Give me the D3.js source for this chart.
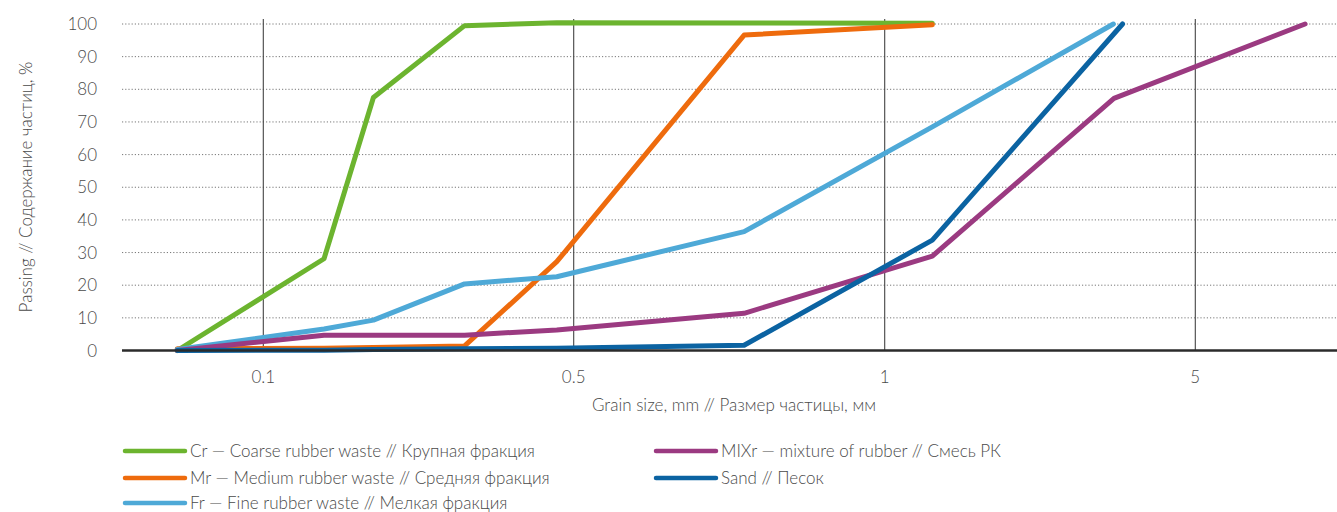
<!DOCTYPE html>
<html>
<head>
<meta charset="utf-8">
<script src="https://cdn.jsdelivr.net/npm/d3@7"></script>
<style>
  html, body { margin: 0; padding: 0; background: #fff; }
  svg { display: block; }
  text { font-family: Lato, "Noto Sans", sans-serif; font-weight: 300; fill: #4a4a4a; }
</style>
</head>
<body>
<svg id="chart" width="1337" height="512"></svg>
<script>
// Grain-size distribution curves (percent passing vs sieve size, mm)
const sizesCr   = [0.064, 0.137, 0.177, 0.284, 0.458, 0.731, 1.28];
const valuesCr  = [0, 28.1, 77.5, 99.5, 100.4, 100.3, 100.2];

const sizesMr   = [0.064, 0.137, 0.177, 0.284, 0.458, 0.731, 1.28];
const valuesMr  = [0.5, 0.7, 0.9, 1.4, 27.2, 96.6, 99.8];

const sizesFr   = [0.064, 0.137, 0.177, 0.284, 0.458, 0.731, 1.28, 3.27];
const valuesFr  = [0.3, 6.6, 9.3, 20.4, 22.6, 36.4, 68.5, 100];

const sizesMix  = [0.064, 0.137, 0.177, 0.284, 0.458, 0.731, 1.28, 3.28, 8.83];
const valuesMix = [0, 4.7, 4.7, 4.7, 6.3, 11.4, 28.9, 77.2, 100];

const sizesSand  = [0.064, 0.137, 0.177, 0.284, 0.458, 0.731, 1.28, 3.43];
const valuesSand = [0, 0.1, 0.3, 0.5, 0.7, 1.6, 33.8, 100];

const seriesNames = [
  "Cr — Coarse rubber waste // Крупная фракция",
  "Mr — Medium rubber waste // Средняя фракция",
  "Fr — Fine rubber waste // Мелкая фракция",
  "MIXr — mixture of rubber // Смесь РК",
  "Sand // Песок"
];
const seriesColors = ["#6cb42f", "#ee6b0d", "#4ea9d7", "#9b3a81", "#0b63a2"];

const xTickValues = [0.1, 0.5, 1, 5];
const xTickLabels = ["0.1", "0.5", "1", "5"];
const yTickValues = [0, 10, 20, 30, 40, 50, 60, 70, 80, 90, 100];

const xTitle = "Grain size, mm // Размер частицы, мм";
const yTitle = "Passing // Содержание частиц, %";

const series = [
  { sizes: sizesCr, values: valuesCr },
  { sizes: sizesMr, values: valuesMr },
  { sizes: sizesFr, values: valuesFr },
  { sizes: sizesMix, values: valuesMix },
  { sizes: sizesSand, values: valuesSand }
].map((s, i) => ({
  name: seriesNames[i],
  color: seriesColors[i],
  points: s.sizes.map((d, j) => ({ size: d, pass: s.values[j] }))
}));

const svg = d3.select("#chart");
const plotLeft = 122, plotRight = 1337, plotTop = 24, plotBottom = 350.5;

// piecewise log scale: each labelled size gets an equal-width band
const x = d3.scaleLog()
  .domain(xTickValues)
  .range([263.3, 573.7, 884.7, 1195.3]);

const y = d3.scaleLinear().domain([0, 100]).range([plotBottom, plotTop]);

// dotted horizontal grid
svg.append("g")
  .selectAll("line")
  .data(yTickValues.filter(v => v > 0))
  .join("line")
  .attr("x1", plotLeft).attr("x2", plotRight)
  .attr("y1", d => y(d)).attr("y2", d => y(d))
  .attr("stroke", "#777")
  .attr("stroke-width", 1)
  .attr("stroke-dasharray", "1.2,2");

// vertical reference lines at labelled sizes
svg.append("g")
  .selectAll("line")
  .data(xTickValues)
  .join("line")
  .attr("x1", d => x(d)).attr("x2", d => x(d))
  .attr("y1", 19).attr("y2", plotBottom)
  .attr("stroke", "#444")
  .attr("stroke-width", 1.1);

// y tick labels
svg.append("g")
  .selectAll("text")
  .data(yTickValues)
  .join("text")
  .attr("x", 97)
  .attr("y", d => y(d))
  .attr("dy", "0.36em")
  .attr("text-anchor", "end")
  .style("font-size", "17px")
  .text(d => d);

// x tick labels
svg.append("g")
  .selectAll("text")
  .data(xTickValues)
  .join("text")
  .attr("x", d => x(d))
  .attr("y", 383)
  .attr("text-anchor", "middle")
  .style("font-size", "17px")
  .text((d, i) => xTickLabels[i]);

// axis titles
svg.append("text")
  .attr("x", 734).attr("y", 411)
  .attr("text-anchor", "middle")
  .style("font-size", "17px")
  .text(xTitle);

svg.append("text")
  .attr("transform", "translate(32,187) rotate(-90)")
  .attr("text-anchor", "middle")
  .style("font-size", "17px")
  .text(yTitle);

// curves
const line = d3.line()
  .x(d => x(d.size))
  .y(d => y(d.pass));

svg.append("g")
  .selectAll("path")
  .data(series)
  .join("path")
  .attr("d", d => line(d.points))
  .attr("fill", "none")
  .attr("stroke", d => d.color)
  .attr("stroke-width", 5)
  .attr("stroke-linejoin", "round")
  .attr("stroke-linecap", "round");

// baseline
svg.append("line")
  .attr("x1", plotLeft).attr("x2", plotRight)
  .attr("y1", plotBottom).attr("y2", plotBottom)
  .attr("stroke", "#2b2b2b")
  .attr("stroke-width", 2.5);

// legend: two columns
const legendPos = [
  { x: 125, y: 451 }, { x: 125, y: 478 }, { x: 125, y: 503 },
  { x: 656, y: 451 }, { x: 656, y: 478 }
];
const legend = svg.append("g")
  .selectAll("g")
  .data(series)
  .join("g")
  .attr("transform", (d, i) => `translate(${legendPos[i].x},${legendPos[i].y})`);

legend.append("line")
  .attr("x1", 0).attr("x2", 60)
  .attr("stroke", d => d.color)
  .attr("stroke-width", 4.5)
  .attr("stroke-linecap", "round");

legend.append("text")
  .attr("x", 65)
  .attr("dy", "0.36em")
  .style("font-size", "17px")
  .text(d => d.name);
</script>
</body>
</html>
